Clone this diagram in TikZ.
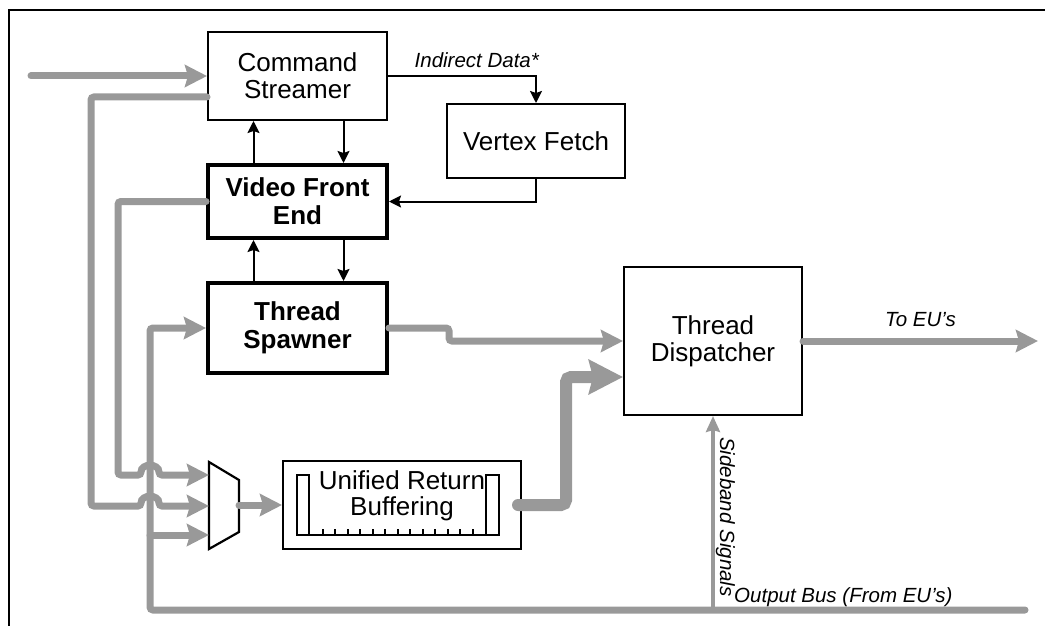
\documentclass[tikz,border=0pt]{standalone}
\usepackage{fontspec}
\setmainfont{Liberation Sans}
\usepackage{tikz}
\usetikzlibrary{arrows.meta,positioning,calc}
\definecolor{BusGray}{RGB}{153,153,153}

\begin{document}
\begin{tikzpicture}[
  x=1pt, y=-1pt,
  block/.style={
    draw,
    minimum width=179pt,
    align=center,
    line width=2pt,
    inner sep=0pt,
    font=\fontsize{26}{27}\selectfont
  },
  boldblock/.style={block, line width=4pt, font=\fontsize{26}{28}\selectfont\bfseries},
  sig/.style={-{Stealth[length=12pt,width=12pt,inset=2pt]}, line width=2pt},
  bus/.style={draw=BusGray, line width=7pt, line cap=round, rounded corners=3pt},
  busarrow/.style={bus, -{Stealth[length=22pt,width=22pt,inset=3pt]}},
  fatbus/.style={draw=BusGray, line width=12pt, line cap=round, rounded corners=5pt,
    -{Stealth[length=34pt,width=34pt,inset=4pt]}},
  sideband/.style={draw=BusGray, line width=3.5pt, -{Stealth[length=16pt,width=14pt,inset=2pt]}},
  textlabel/.style={font=\fontsize{20.5}{22}\selectfont\itshape, inner sep=1pt}
]
\useasboundingbox (0,0) rectangle (1045,626);
\draw[line width=2.5pt] (9,626) -- (9,10) -- (1045,10);

\def\XCol{297.5}
\node[block, minimum height=88pt] (cs) at (\XCol,76) {Command\\Streamer};
\node[boldblock, minimum height=73pt] (vfe) at (\XCol,201.5) {Video Front\\End};
\node[boldblock, minimum height=90pt] (ts) at (\XCol,328) {Thread\\Spawner};
\node[block, minimum width=178pt, minimum height=74pt] (vf) at (536,141) {Vertex Fetch};
\node[block, minimum width=178pt, minimum height=148pt] (td) at (713,341) {Thread\\Dispatcher};
\node[block, minimum width=238pt, minimum height=88pt] (urb) at (402,505) {};
\node[font=\fontsize{26}{26}\selectfont, align=center, inner sep=0pt] (urbtext) at (402,496) {Unified Return\\Buffering};

% buffer slots
\draw[line width=2pt] (297,475) rectangle (309,535);
\draw[line width=2pt] (486,475) rectangle (499,535);
\draw[line width=2pt] (309,535) -- (486,535);
\foreach \k in {0,...,12}
  \draw[line width=1.6pt] ({322.7+12.5*\k},535) -- ++(0,-6);

% mux
\draw[line width=2.2pt, fill=white] (209,462) -- (239,480) -- (239,532) -- (209,549) -- cycle;
\coordinate (muxa) at (209,475);
\coordinate (muxb) at (209,506);
\coordinate (muxc) at (209,535);
\coordinate (muxout) at (239,505);

\coordinate (in) at (31,76);
\coordinate (buscorner) at (150,610);
\coordinate (busend) at (1025,610);
\coordinate (euout) at (1038,341);

% black control paths
\draw[sig] ([xshift=-44pt]vfe.north) -- ([xshift=-44pt]cs.south);
\draw[sig] ([xshift=46pt]cs.south) -- ([xshift=46pt]vfe.north);
\draw[sig] ([xshift=-44pt]ts.north) -- ([xshift=-44pt]vfe.south);
\draw[sig] ([xshift=46pt]vfe.south) -- ([xshift=46pt]ts.north);
\draw[sig] (cs.east) -| node[textlabel, above=6pt, pos=0.3] (idlabel) {Indirect Data*} (vf.north);
\draw[sig] (vf.south) |- (vfe.east);

% gray data paths
\draw[busarrow] (in) -- (cs.west);
\draw[busarrow] (busend) -- (buscorner) |- (ts.west);
\draw[busarrow] (buscorner |- muxc) -- (muxc);
\draw[busarrow] (vfe.west) -- ++(-88,0) |- ($(buscorner |- muxa)+(-9,0)$)
  .. controls +(0,-12) and +(0,-12) .. ++(18,0) -- (muxa);
\draw[busarrow] ([yshift=-21pt]cs.west) -- ++(-116,0) |- ($(buscorner |- muxb)+(-9,0)$)
  .. controls +(0,-12) and +(0,-12) .. ++(18,0) -- (muxb);
\draw[busarrow] (muxout) -- (urb.west);
\draw[busarrow] (ts.east) -- ++(60,0) |- (td.west);
\draw[fatbus] ([xshift=-4pt]urb.east) -- ++(48,0) |- ([yshift=-36pt]td.west);
\draw[busarrow] (td.east) -- node[textlabel, above=10pt] (eulabel) {To EU’s} (euout);
\draw[sideband] (td.south |- busend) --
  node[textlabel, rotate=-90, anchor=south, pos=0.48] (sblabel) {Sideband Signals} (td.south);
\node[textlabel, anchor=base west] (oblabel) at ([xshift=20pt,yshift=8pt]td.south |- busend)
  {Output Bus (From EU’s)};
\end{tikzpicture}
\end{document}
